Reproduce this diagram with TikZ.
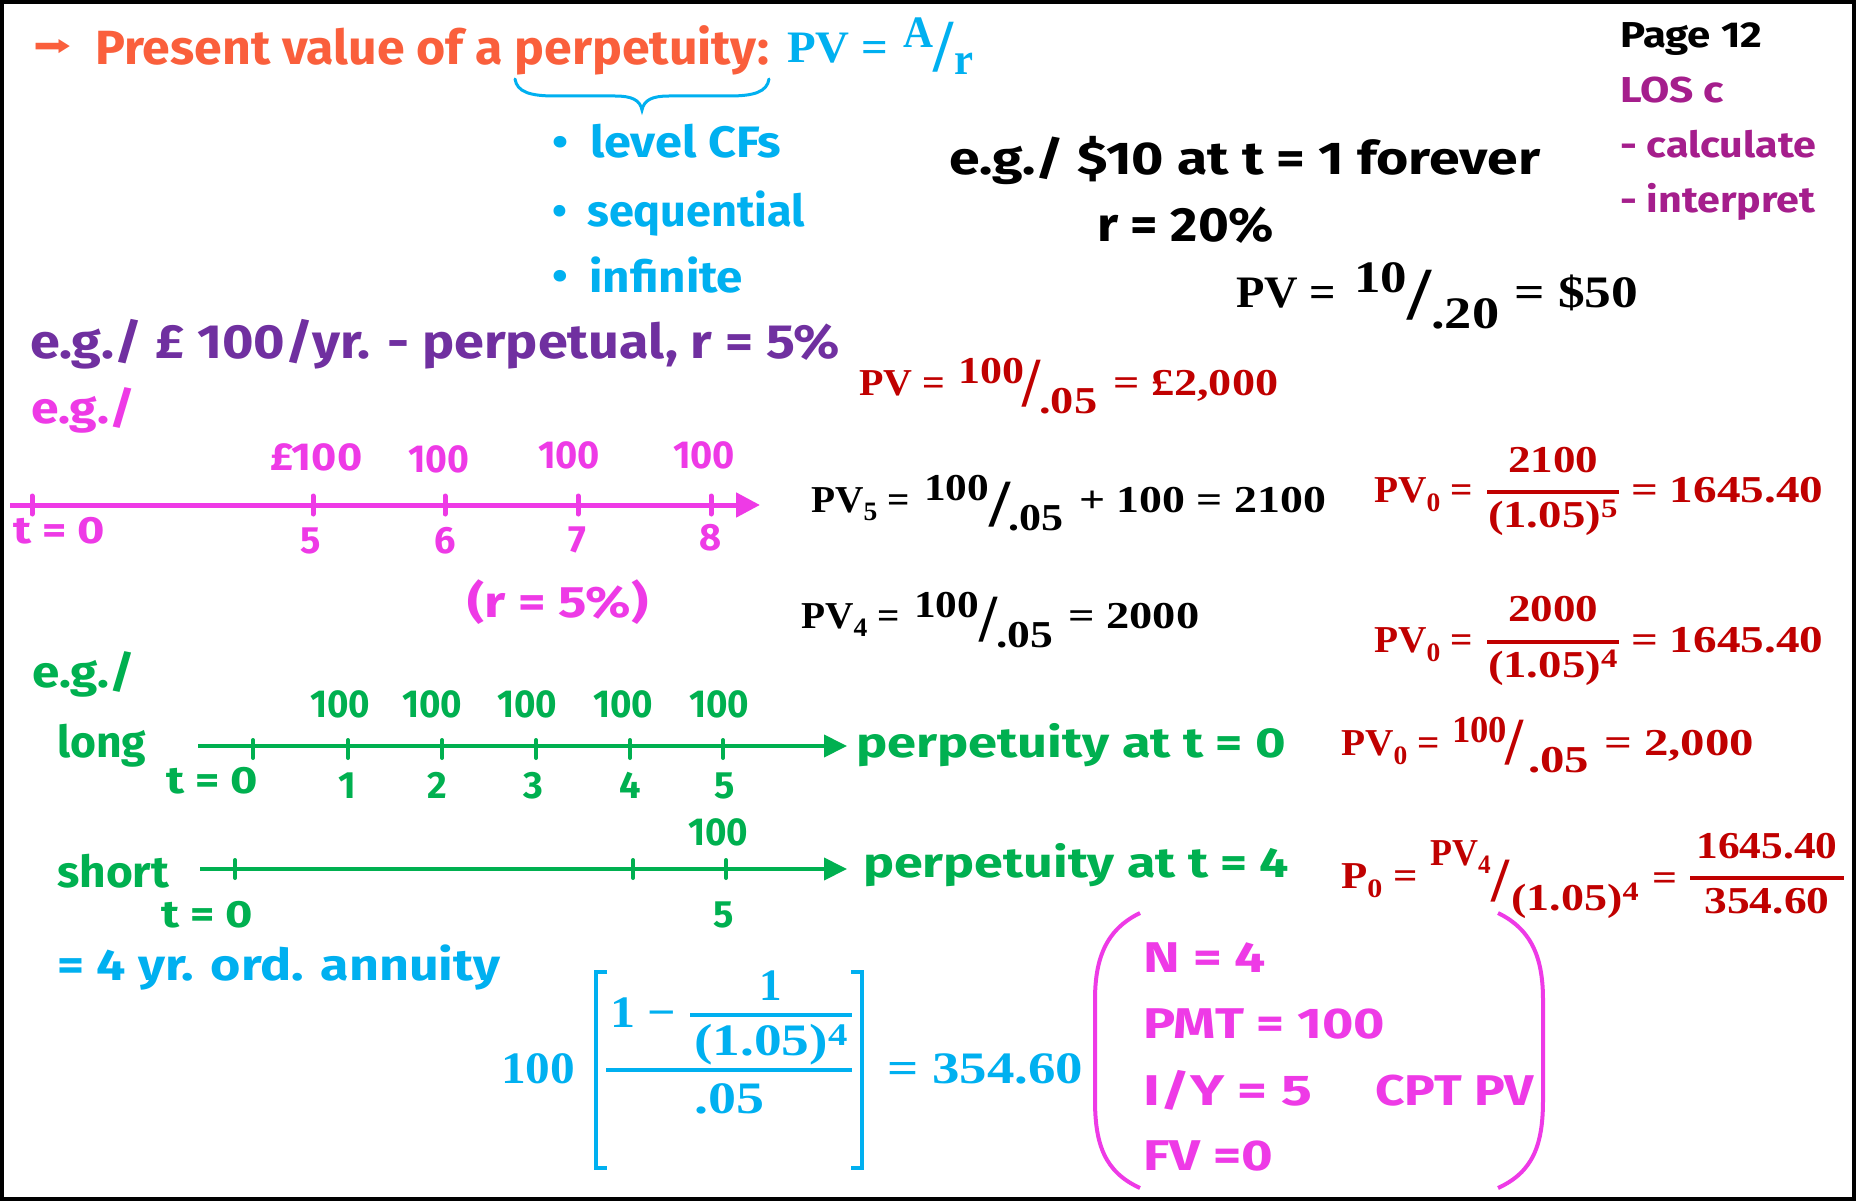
\documentclass[tikz,border=0pt]{standalone}
\usepackage{fontspec}
\usepackage{amsmath}
\usepackage{graphicx}
\usetikzlibrary{arrows.meta}
\newfontfamily\hand{Fira Sans}
\newfontfamily\eqf{Liberation Serif}
\newfontfamily\symf{DejaVu Sans}
\definecolor{orng}{RGB}{250,95,60}
\definecolor{sky}{RGB}{0,176,240}
\definecolor{purp}{RGB}{112,48,160}
\definecolor{dred}{RGB}{192,0,0}
\definecolor{pinkc}{RGB}{238,58,230}
\definecolor{grn}{RGB}{0,176,80}
\definecolor{losc}{RGB}{165,30,140}
\newcommand\fw[2]{\resizebox{#1pt}{\height}{#2}}
\newcommand\slh[2]{\resizebox*{#1pt}{#2pt}{/}}
\newcommand\bul{\raisebox{1.5pt}{\scalebox{0.95}{•}}}
\tikzset{
  hw/.style={inner sep=0pt, anchor=base west, font=\hand\bfseries\fontsize{#1}{#1}\selectfont},
  eq/.style={inner sep=0pt, anchor=base west, font=\eqf\bfseries\fontsize{#1}{#1}\selectfont},
  slash/.style={inner sep=0pt, anchor=south west, font=\eqf\bfseries\fontsize{40}{40}\selectfont},
  tick/.style={line width=#1, line cap=round},
}
\begin{document}
\begin{tikzpicture}[x=1pt,y=-1pt]
\useasboundingbox (0,0) rectangle (1856,1201);
\fill[white] (0,0) rectangle (1856,1201);
\draw[line width=4pt] (2,2) rectangle (1854,1199);

% ---------- title ----------
\node[inner sep=0pt, anchor=center, text=orng] (arr) at (52,48) {\resizebox*{38pt}{16pt}{\symf ➡}};
\node[hw=48, text=orng] (pres) at (95,65) {\fw{674}{Present value of a perpetuity:}};
\node[eq=45, text=sky] (pvA) at (787,63) {\fw{101}{PV =}};
\node[eq=45, text=sky] (Anum) at (903,48) {\fw{30}{A}};
\node[slash, text=sky] (Asl) at (933,72) {\slh{20}{50}};
\node[eq=45, text=sky] (rden) at (954,75) {\fw{19}{r}};
\draw[sky, line width=3pt, line cap=round]
  (515,79) .. controls (517,92) and (530,96) .. (555,96) -- (615,96)
  .. controls (632,96) and (640,100) .. (642,110)
  .. controls (644,100) and (652,96) .. (669,96) -- (729,96)
  .. controls (754,96) and (767,92) .. (769,79);
\node[hw=44, text=sky] (b1) at (552,158) {\fw{229}{\bul\hspace{0.45em}level CFs}};
\node[hw=44, text=sky] (b2) at (552,227) {\fw{253}{\bul\hspace{0.45em}sequential}};
\node[hw=44, text=sky] (b3) at (552,292) {\fw{191}{\bul\hspace{0.45em}infinite}};

% ---------- right column ----------
\node[hw=36, text=black] (page) at (1620,48) {\fw{142}{Page 12}};
\node[hw=36, text=losc] (los) at (1620,103) {\fw{104}{LOS c}};
\node[hw=36, text=losc] (calc) at (1620,158) {\fw{196}{- calculate}};
\node[hw=36, text=losc] (inter) at (1620,213) {\fw{195}{- interpret}};

\node[hw=46, text=black] (eg2) at (949,175) {\fw{591}{e.g./ \$10 at t = 1 forever}};
\node[hw=48, text=black] (r20) at (1097,242) {\fw{177}{r = 20\%}};
\node[eq=45, text=black] (pvB) at (1236,308) {\fw{100}{PV =}};
\node[eq=45, text=black] (tenB) at (1354,293) {\fw{53}{10}};
\node[slash, text=black] (slB) at (1407,320) {\slh{24}{50}};
\node[eq=45, text=black] (denB) at (1431,328) {\fw{68}{.20}};
\node[eq=45, text=black] (resB) at (1514,308) {\fw{124}{= \$50}};

% ---------- purple example ----------
\node[hw=48, text=purp] (eg1) at (30,358) {\fw{810}{e.g./ £ 100/yr. - perpetual, r = 5\%}};
\node[eq=38, text=dred] (pvC) at (859,395) {\fw{86}{PV =}};
\node[eq=38, text=dred] (numC) at (958,383) {\fw{66}{100}};
\node[slash, text=dred] (slC) at (1022,407) {\slh{18}{47}};
\node[eq=38, text=dred] (denC) at (1039,413) {\fw{58}{.05}};
\node[eq=38, text=dred] (resC) at (1113,395) {\fw{165}{= £2,000}};

% ---------- pink timeline ----------
\node[hw=44, text=pinkc] (eg3) at (31,423) {\fw{104}{e.g./}};
\draw[pinkc, line width=5pt, -{Triangle[length=24pt,width=24pt]}] (10,505) -- (760,505);
\foreach \xx in {32,313,445,578,711} \draw[pinkc, tick=5pt] (\xx,496) -- (\xx,514);
\node[hw=39, text=pinkc] (p100a) at (270,470) {\fw{92}{£100}};
\node[hw=39, text=pinkc, anchor=base] (p100b) at (439,472) {\fw{61}{100}};
\node[hw=39, text=pinkc, anchor=base] (p100c) at (569,468) {\fw{62}{100}};
\node[hw=39, text=pinkc, anchor=base] (p100d) at (704,468) {\fw{62}{100}};
\node[hw=38, text=pinkc] (pt0) at (13,543) {\fw{92}{t = 0}};
\node[hw=38, text=pinkc, anchor=base] (pt5) at (311,553) {5};
\node[hw=38, text=pinkc, anchor=base] (pt6) at (445,553) {6};
\node[hw=38, text=pinkc, anchor=base] (pt7) at (577,552) {7};
\node[hw=38, text=pinkc, anchor=base] (pt8) at (711,550) {8};
\node[hw=44, text=pinkc] (r5) at (467,617) {\fw{181}{(r = 5\%)}};

% ---------- PV5 / PV4 ----------
\node[eq=38, text=black] (pvD) at (811,512) {\fw{99}{PV$_{\text{5}}$ =}};
\node[eq=38, text=black] (numD) at (924,500) {\fw{65}{100}};
\node[slash, text=black] (slD) at (989,527) {\slh{21}{45}};
\node[eq=38, text=black] (denD) at (1008,530) {\fw{55}{.05}};
\node[eq=38, text=black] (resD) at (1079,512) {\fw{247}{+ 100 = 2100}};

\node[eq=38, text=dred] (pvE) at (1374,502) {\fw{99}{PV$_{\text{0}}$ =}};
\node[eq=38, text=dred, anchor=base] (numE) at (1553,472) {\fw{90}{2100}};
\draw[dred, line width=4pt] (1487,492) -- (1619,492);
\node[eq=38, text=dred, anchor=base] (denE) at (1553,527) {\fw{130}{(1.05)\textsuperscript{5}}};
\node[eq=38, text=dred] (resE) at (1631,502) {\fw{192}{= 1645.40}};

\node[eq=38, text=black] (pvF) at (801,628) {\fw{99}{PV$_{\text{4}}$ =}};
\node[eq=38, text=black] (numF) at (914,617) {\fw{65}{100}};
\node[slash, text=black] (slF) at (979,642) {\slh{18}{45}};
\node[eq=38, text=black] (denF) at (996,647) {\fw{57}{.05}};
\node[eq=38, text=black] (resF) at (1068,628) {\fw{131}{= 2000}};

\node[eq=38, text=dred] (pvG) at (1374,652) {\fw{99}{PV$_{\text{0}}$ =}};
\node[eq=38, text=dred, anchor=base] (numG) at (1553,621) {\fw{90}{2000}};
\draw[dred, line width=4pt] (1487,642) -- (1619,642);
\node[eq=38, text=dred, anchor=base] (denG) at (1553,677) {\fw{130}{(1.05)\textsuperscript{4}}};
\node[eq=38, text=dred] (resG) at (1631,652) {\fw{192}{= 1645.40}};

% ---------- green section ----------
\node[hw=44, text=grn] (eg4) at (32,687) {\fw{103}{e.g./}};
\node[hw=44, text=grn] (long) at (57,757) {\fw{89}{long}};
\draw[grn, line width=4pt, -{Triangle[length=23pt,width=22pt]}] (198,746) -- (847,746);
\foreach \xx in {253,348,442,536,630,723} \draw[grn, tick=4pt] (\xx,740) -- (\xx,758);
\foreach \xx/\nm in {340/ga,432/gb,527/gc,623/gd,719/ge}
  \node[hw=39, text=grn, anchor=base] (\nm) at (\xx,717) {\fw{60}{100}};
\node[hw=38, text=grn] (gt0) at (166,793) {\fw{92}{t = 0}};
\node[hw=38, text=grn, anchor=base] (g1) at (347,798) {1};
\node[hw=38, text=grn, anchor=base] (g2) at (437,798) {2};
\node[hw=38, text=grn, anchor=base] (g3) at (533,798) {3};
\node[hw=38, text=grn, anchor=base] (g4) at (630,798) {4};
\node[hw=38, text=grn, anchor=base] (g5) at (725,798) {5};
\node[hw=42, text=grn] (perp0) at (856,757) {\fw{430}{perpetuity at t = 0}};

\node[hw=44, text=grn] (short) at (57,887) {\fw{112}{short}};
\draw[grn, line width=4pt, -{Triangle[length=23pt,width=22pt]}] (200,869) -- (847,869);
\foreach \xx in {235,633,726} \draw[grn, tick=4pt] (\xx,860) -- (\xx,878);
\node[hw=39, text=grn, anchor=base] (s100) at (718,845) {\fw{60}{100}};
\node[hw=38, text=grn] (st0) at (161,927) {\fw{92}{t = 0}};
\node[hw=38, text=grn, anchor=base] (s5) at (724,927) {5};
\node[hw=42, text=grn] (perp4) at (863,877) {\fw{426}{perpetuity at t = 4}};

\node[eq=38, text=dred] (pvH) at (1341,755) {\fw{99}{PV$_{\text{0}}$ =}};
\node[eq=38, text=dred] (numH) at (1452,742) {\fw{55}{100}};
\node[slash, text=dred] (slH) at (1505,765) {\slh{18}{45}};
\node[eq=38, text=dred] (denH) at (1528,772) {\fw{61}{.05}};
\node[eq=38, text=dred] (resH) at (1604,755) {\fw{150}{= 2,000}};

\node[eq=38, text=dred] (pI) at (1341,888) {\fw{77}{P$_{\text{0}}$ =}};
\node[eq=38, text=dred] (numI) at (1430,865) {\fw{61}{PV$_{\text{4}}$}};
\node[slash, text=dred] (slI) at (1491,902) {\slh{18}{42}};
\node[eq=38, text=dred] (denI) at (1511,910) {\fw{128}{(1.05)\textsuperscript{4}}};
\node[eq=38, text=dred] (eqI) at (1652,890) {\fw{25}{=}};
\node[eq=38, text=dred, anchor=base] (fnI) at (1767,858) {\fw{141}{1645.40}};
\draw[dred, line width=4pt] (1690,878) -- (1844,878);
\node[eq=38, text=dred, anchor=base] (fdI) at (1767,913) {\fw{125}{354.60}};

% ---------- annuity ----------
\node[hw=44, text=sky] (ann) at (57,980) {\fw{443}{= 4 yr. ord. annuity}};
\node[eq=45, text=sky] (hund) at (501,1083) {\fw{74}{100}};
\draw[sky, line width=4pt] (607,972) -- (596,972) -- (596,1168) -- (607,1168);
\draw[sky, line width=4pt] (851,972) -- (862,972) -- (862,1168) -- (851,1168);
\node[eq=45, text=sky] (onem) at (610,1027) {\fw{66}{1 −}};
\node[eq=45, text=sky, anchor=base] (one) at (771,1000) {1};
\draw[sky, line width=4pt] (690,1015) -- (852,1015);
\node[eq=45, text=sky] (denJ) at (694,1055) {\fw{154}{(1.05)\textsuperscript{4}}};
\draw[sky, line width=4pt] (606,1070) -- (852,1070);
\node[eq=45, text=sky, anchor=base] (rateJ) at (729,1113) {\fw{70}{.05}};
\node[eq=45, text=sky] (resJ) at (887,1083) {\fw{196}{= 354.60}};

% ---------- calculator box ----------
\draw[pinkc, line width=4pt] (1140,913) .. controls (1105,930) and (1095,960) .. (1095,1000)
  -- (1095,1100) .. controls (1095,1145) and (1105,1172) .. (1140,1188);
\draw[pinkc, line width=4pt] (1498,913) .. controls (1533,930) and (1543,960) .. (1543,1000)
  -- (1543,1100) .. controls (1543,1145) and (1533,1172) .. (1498,1188);
\node[hw=43, text=pinkc] (cN) at (1143,972) {\fw{123}{N = 4}};
\node[hw=43, text=pinkc] (cPMT) at (1143,1038) {\fw{242}{PMT = 100}};
\node[hw=43, text=pinkc] (cIY) at (1143,1105) {\fw{169}{I/Y = 5}};
\node[hw=43, text=pinkc] (cCPT) at (1375,1105) {\fw{158}{CPT PV}};
\node[hw=43, text=pinkc] (cFV) at (1143,1170) {\fw{130}{FV =0}};
\end{tikzpicture}
\end{document}
